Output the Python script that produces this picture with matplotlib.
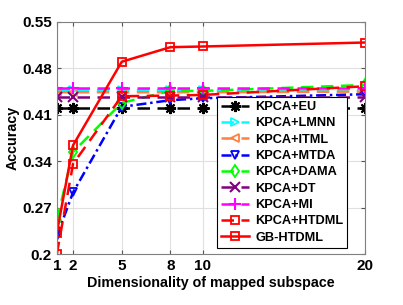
import matplotlib
matplotlib.use("Agg")
import matplotlib.pyplot as plt

plt.rcParams['font.family'] = ['Liberation Sans', 'DejaVu Sans']
plt.rcParams['font.weight'] = 'bold'

dims = [1, 2, 5, 8, 10, 20]
kpca_eu = [0.420, 0.420, 0.420, 0.420, 0.420, 0.420]
kpca_lmnn = [0.447, 0.447, 0.447, 0.447, 0.447, 0.446]
kpca_itml = [0.444, 0.444, 0.444, 0.444, 0.444, 0.445]
kpca_mtda = [0.227, 0.293, 0.422, 0.432, 0.435, 0.441]
kpca_dama = [0.251, 0.354, 0.428, 0.446, 0.446, 0.455]
kpca_dt = [0.437, 0.437, 0.437, 0.437, 0.437, 0.437]
kpca_mi = [0.450, 0.450, 0.450, 0.450, 0.450, 0.450]
kpca_htdml = [0.200, 0.336, 0.438, 0.439, 0.440, 0.453]
gb_htdml = [0.232, 0.364, 0.490, 0.512, 0.513, 0.519]

labels = ['KPCA+EU', 'KPCA+LMNN', 'KPCA+ITML', 'KPCA+MTDA', 'KPCA+DAMA',
          'KPCA+DT', 'KPCA+MI', 'KPCA+HTDML', 'GB-HTDML']
yticks = [0.2, 0.27, 0.34, 0.41, 0.48, 0.55]
yticklabels = ['0.2', '0.27', '0.34', '0.41', '0.48', '0.55']

fig = plt.figure(figsize=(4.03, 3.05), dpi=100)
ax = fig.add_axes([0.141, 0.167, 0.765, 0.761])

series = [kpca_eu, kpca_lmnn, kpca_itml, kpca_mtda, kpca_dama, kpca_dt, kpca_mi, kpca_htdml, gb_htdml]
styles = [
    dict(color='black', ls=(0, (5, 3)), marker=(8, 2, 0), ms=8, mew=1.5),
    dict(color='#00FFFF', ls=(0, (5, 3)), marker='>', ms=6, mfc='none', mew=1.3),
    dict(color='#FF8040', ls=(0, (5, 3)), marker='<', ms=6, mfc='none', mew=1.3),
    dict(color='blue', ls=(0, (4, 1.5, 1, 1.5)), marker='v', ms=6, mfc='none', mew=1.3),
    dict(color='#00FF00', ls=(0, (5, 3)), marker='d', ms=6, mfc='none', mew=1.3),
    dict(color='#800080', ls=(0, (5, 3)), marker='x', ms=7, mew=1.5),
    dict(color='#FF00FF', ls=(0, (5, 3)), marker='+', ms=9, mew=1.5),
    dict(color='red', ls=(0, (5, 3)), marker='s', ms=5.5, mfc='none', mew=1.3),
    dict(color='red', ls='-', marker='s', ms=5.5, mfc='none', mew=1.3),
]
for vals, lab, st in zip(series, labels, styles):
    ax.plot(dims, vals, label=lab, lw=1.8, **st)

ax.set_xlim(1, 20)
ax.set_ylim(0.2, 0.55)
ax.set_xticks(dims)
ax.set_xticklabels([str(d) for d in dims])
ax.set_yticks(yticks)
ax.set_yticklabels(yticklabels)
ax.grid(True, color='#E0E0E0', lw=0.8)
ax.set_axisbelow(True)
ax.tick_params(direction='in', top=True, right=True, labelsize=11, length=3, color='#555555')
for sp in ax.spines.values():
    sp.set_color('#808080')
    sp.set_linewidth(0.8)
ax.set_xlabel('Dimensionality of mapped subspace', fontsize=10.3, fontweight='bold', labelpad=2)
ax.set_ylabel('Accuracy', fontsize=10.3, fontweight='bold', labelpad=2)

leg = ax.legend(loc='lower right', bbox_to_anchor=(0.962, 0.0), fontsize=9.2,
                frameon=True, fancybox=False, edgecolor='black', framealpha=1,
                handlelength=2.2, labelspacing=0.34, borderpad=0.3, handletextpad=0.5)
leg.get_frame().set_linewidth(0.8)

fig.savefig('out.png', dpi=100)
